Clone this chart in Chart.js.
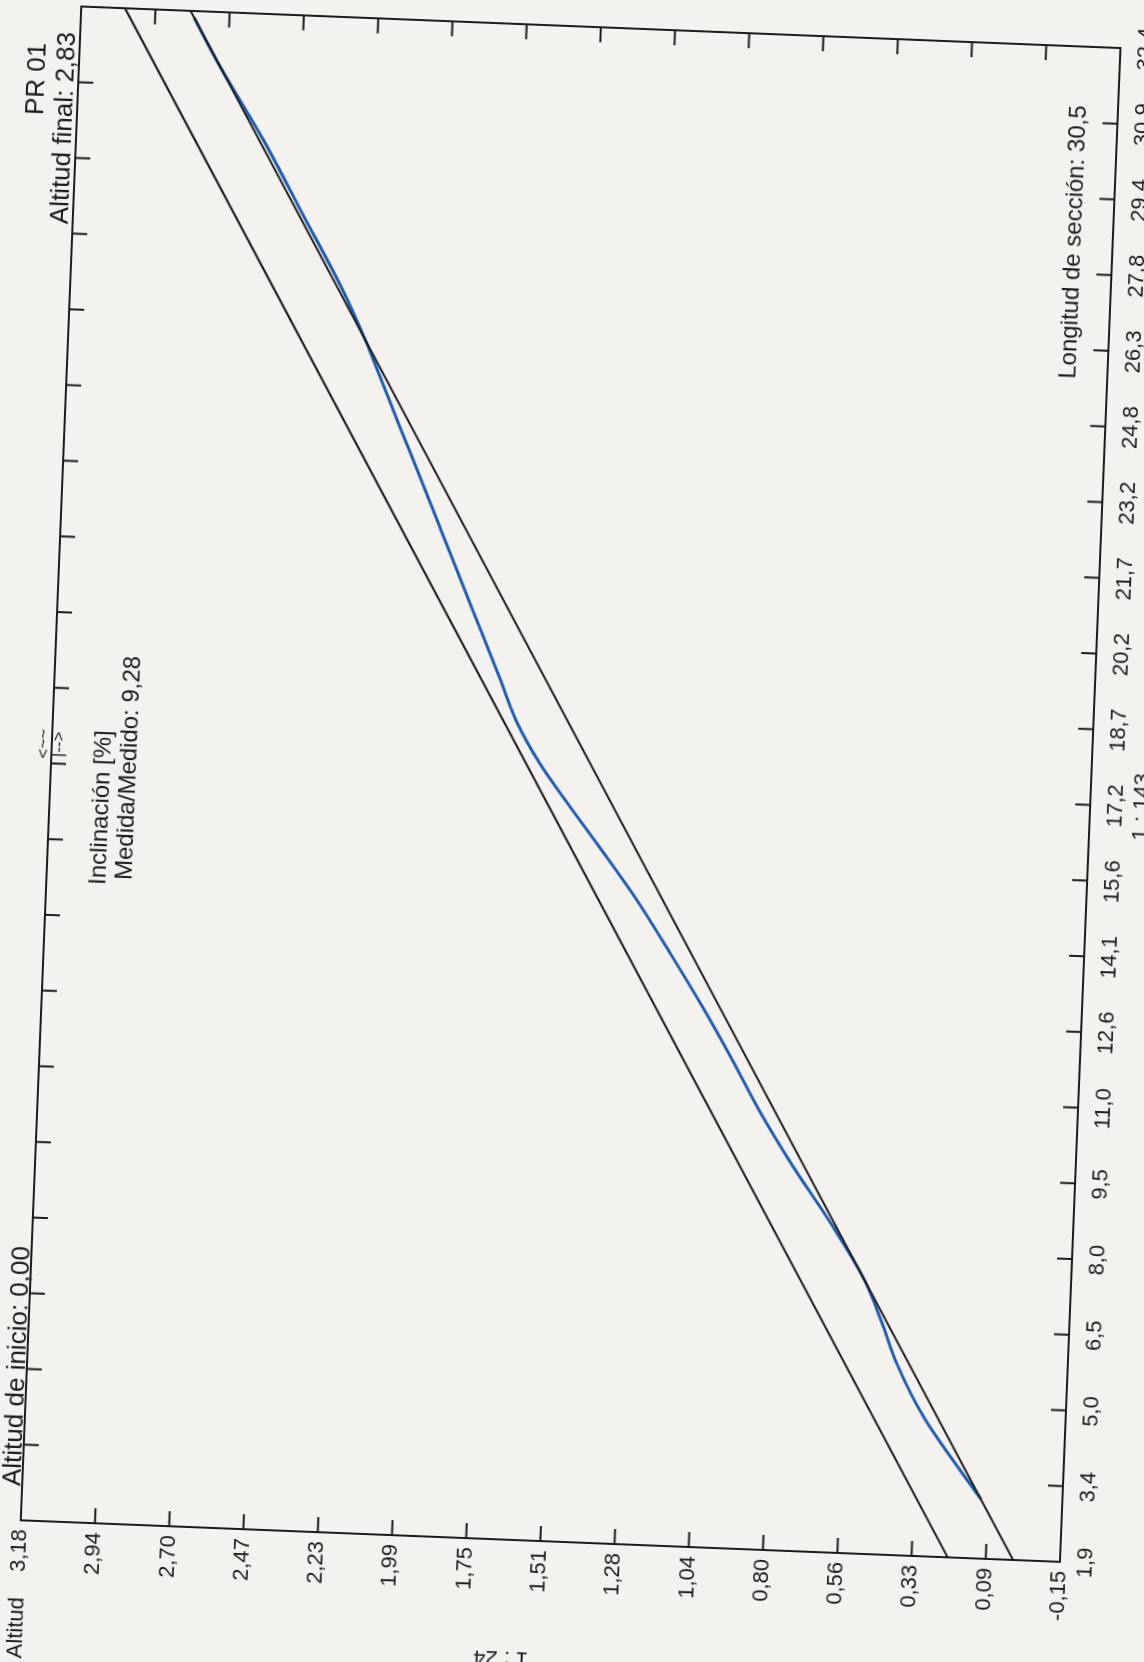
<!DOCTYPE html>
<html lang="es">
<head>
    <meta charset="UTF-8">
    <title>PR 01 - Perfil</title>
    <script src="https://cdn.jsdelivr.net/npm/chart.js"></script>
    <style>
        html, body {
            margin: 0;
            padding: 0;
            width: 1144px;
            height: 1662px;
            overflow: hidden;
            background-color: #f4f2ee;
        }

        /* the sheet was scanned sideways and a bit crooked */
        #sheet {
            position: absolute;
            left: 0;
            top: 0;
            transform-origin: 0 0;
            transform: translate(-95.95px, 1685.76px) rotate(-87.71deg);
        }
    </style>
</head>
<body>
    <div id="sheet">
        <canvas id="profile" width="1745" height="1240"></canvas>
    </div>

    <script>
        // axis ticks
        const lengthTicks = [1.9, 3.425, 4.95, 6.475, 8.0, 9.525, 11.05, 12.575, 14.1, 15.625, 17.15,
                             18.675, 20.2, 21.725, 23.25, 24.775, 26.3, 27.825, 29.35, 30.875, 32.4];
        const lengthLabels = ['1,9', '3,4', '5,0', '6,5', '8,0', '9,5', '11,0', '12,6', '14,1', '15,6', '17,2',
                              '18,7', '20,2', '21,7', '23,2', '24,8', '26,3', '27,8', '29,4', '30,9', '32,4'];
        const altTicks = [-0.15, 0.0879, 0.3257, 0.5636, 0.8014, 1.0393, 1.2771, 1.515, 1.7529, 1.9907,
                          2.2286, 2.4664, 2.7043, 2.9421, 3.18];
        const altLabels = ['-0,15', '0,09', '0,33', '0,56', '0,80', '1,04', '1,28', '1,51', '1,75', '1,99',
                           '2,23', '2,47', '2,70', '2,94', '3,18'];

        // design gradient and upper limit
        const designX = [1.9, 32.4];
        const designY = [0.00, 2.83];
        const upperY = [0.21, 3.04];

        // measured profile
        const measuredX = [3.1, 4.7, 5.74, 6.58, 7.42, 8.45, 9.69, 10.73, 11.77, 12.8, 13.84, 14.87, 15.91,
                           16.72, 17.54, 18.38, 19.22, 20.06, 21.1, 22.14, 23.19, 24.23, 25.28, 25.91, 26.95,
                           28.4, 29.86, 31.31, 32.26];
        const measuredY = [0.111, 0.304, 0.396, 0.451, 0.512, 0.618, 0.76, 0.869, 0.966, 1.067, 1.176, 1.288, 1.415,
                           1.517, 1.616, 1.697, 1.755, 1.814, 1.888, 1.961, 2.035, 2.109, 2.183, 2.228, 2.311,
                           2.445, 2.58, 2.729, 2.817];

        const ink = '#1b1b1b';
        const family = '"Liberation Sans", Arial, sans-serif';

        const toPoints = (xs, ys) => xs.map((v, i) => ({ x: v, y: ys[i] }));

        // frame with inward ticks on all four sides + the printed notes
        const frameTicks = {
            id: 'frameTicks',
            afterDraw(chart) {
                const { ctx, chartArea: a, scales: { x, y } } = chart;
                ctx.save();
                ctx.strokeStyle = ink;
                ctx.lineWidth = 2;
                ctx.strokeRect(a.left, a.top, a.right - a.left, a.bottom - a.top);

                ctx.beginPath();
                lengthTicks.forEach(v => {
                    const px = x.getPixelForValue(v);
                    ctx.moveTo(px, a.bottom); ctx.lineTo(px, a.bottom - 15);
                    ctx.moveTo(px, a.top); ctx.lineTo(px, a.top + 15);
                });
                altTicks.forEach(v => {
                    const py = y.getPixelForValue(v);
                    ctx.moveTo(a.left, py); ctx.lineTo(a.left + 15, py);
                    ctx.moveTo(a.right, py); ctx.lineTo(a.right - 15, py);
                });
                ctx.stroke();

                ctx.fillStyle = ink;
                ctx.textBaseline = 'alphabetic';

                ctx.font = '26px ' + family;
                ctx.textAlign = 'left';
                ctx.fillText('Altitud de inicio: 0,00', a.left + 34, a.top - 2);
                ctx.textAlign = 'right';
                ctx.fillText('Altitud final: 2,83', a.right - 26, a.top - 5);
                ctx.fillText('PR 01', a.right - 38, a.top - 34);

                ctx.font = '24px ' + family;
                ctx.textAlign = 'left';
                ctx.fillText('Inclinación [%]', a.left + 638, a.top + 59);
                ctx.fillText('Medida/Medido: 9,28', a.left + 644, a.top + 85);
                ctx.textAlign = 'right';
                ctx.fillText('Longitud de sección: 30,5', a.right - 59, a.bottom - 32);

                ctx.font = '22px ' + family;
                ctx.textBaseline = 'middle';
                ctx.fillText('Altitud', a.left - 77, a.top);

                // vertical scale note of the altitude axis
                ctx.save();
                ctx.translate(a.left - 118, a.top + 485);
                ctx.rotate(-Math.PI / 2);
                ctx.textAlign = 'center';
                ctx.font = '22px ' + family;
                ctx.fillText('1 : 24', 0, 0);
                ctx.restore();

                ctx.font = '17px ' + family;
                ctx.textAlign = 'left';
                ctx.textBaseline = 'alphabetic';
                ctx.fillText('<~~', a.left + 762, a.top - 3);
                ctx.fillText('|-->', a.left + 764, a.top + 12);
                ctx.restore();
            }
        };

        const ctx = document.getElementById('profile').getContext('2d');
        const profileChart = new Chart(ctx, {
            type: 'scatter',
            data: {
                datasets: [
                    {
                        label: 'Límite',
                        data: toPoints(designX, upperY),
                        showLine: true,
                        borderColor: ink,
                        borderWidth: 2,
                        pointRadius: 0
                    },
                    {
                        label: 'Diseño',
                        data: toPoints(designX, designY),
                        showLine: true,
                        borderColor: ink,
                        borderWidth: 2,
                        pointRadius: 0
                    },
                    {
                        label: 'Medido',
                        data: toPoints(measuredX, measuredY),
                        showLine: true,
                        borderColor: '#215cad',
                        borderWidth: 3,
                        pointRadius: 0,
                        cubicInterpolationMode: 'monotone'
                    }
                ]
            },
            options: {
                responsive: false,
                animation: false,
                devicePixelRatio: 1,
                layout: {
                    padding: { left: 0, top: 110, right: 60, bottom: 0 }
                },
                plugins: {
                    legend: { display: false },
                    tooltip: { enabled: false }
                },
                scales: {
                    x: {
                        type: 'linear',
                        min: 1.9,
                        max: 32.4,
                        grid: { display: false, drawTicks: false },
                        border: { display: false },
                        afterBuildTicks: s => { s.ticks = lengthTicks.map(v => ({ value: v })); },
                        afterFit: s => { s.height = 90; },
                        ticks: {
                            autoSkip: false,
                            maxRotation: 0,
                            minRotation: 0,
                            padding: 13,
                            color: ink,
                            font: { size: 22, family: family },
                            callback: (v, i) => lengthLabels[i]
                        },
                        title: {
                            display: true,
                            text: '1 : 143',
                            color: ink,
                            font: { size: 22, family: family },
                            padding: { top: 0, bottom: 25 }
                        }
                    },
                    y: {
                        type: 'linear',
                        min: -0.15,
                        max: 3.18,
                        grid: { display: false, drawTicks: false },
                        border: { display: false },
                        afterBuildTicks: s => { s.ticks = altTicks.map(v => ({ value: v })); },
                        afterFit: s => { s.width = 170; },
                        ticks: {
                            autoSkip: false,
                            padding: 9,
                            color: ink,
                            font: { size: 22, family: family },
                            callback: (v, i) => altLabels[i]
                        }
                    }
                }
            },
            plugins: [frameTicks]
        });
    </script>
</body>
</html>
